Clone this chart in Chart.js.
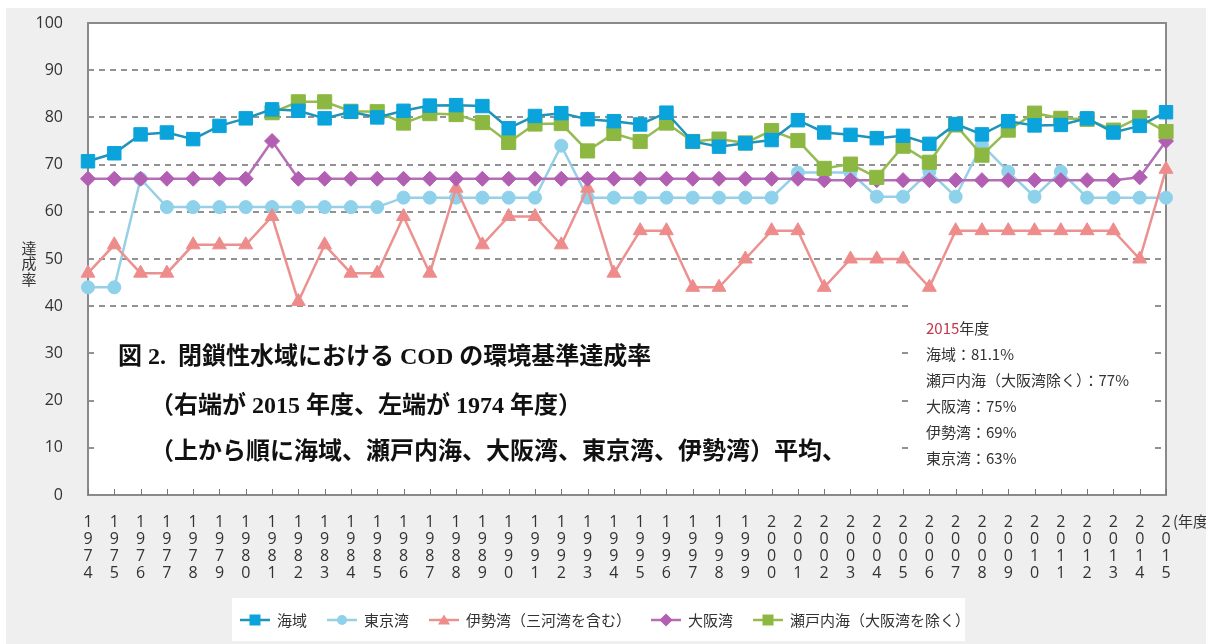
<!DOCTYPE html>
<html lang="ja">
<head>
<meta charset="utf-8">
<script src="https://cdn.jsdelivr.net/npm/chart.js@4.4.1/dist/chart.umd.min.js"></script>
<style>
  html, body { margin: 0; padding: 0; background: #fff; }
  #wrap { width: 1206px; height: 644px; position: relative; }
</style>
</head>
<body>
<div id="wrap"><canvas id="chart" width="1206" height="644"></canvas></div>
<script>
// 年度
const years = ['1974','1975','1976','1977','1978','1979','1980','1981','1982','1983',
  '1984','1985','1986','1987','1988','1989','1990','1991','1992','1993',
  '1994','1995','1996','1997','1998','1999','2000','2001','2002','2003',
  '2004','2005','2006','2007','2008','2009','2010','2011','2012','2013',
  '2014','2015'];

// 達成率 (%)
const kaiiki = [70.7, 72.4, 76.4, 76.8, 75.4, 78.2, 79.8, 81.7, 81.4, 79.8,
  81.2, 80.0, 81.4, 82.5, 82.6, 82.4, 77.7, 80.3, 80.9, 79.6,
  79.2, 78.5, 81.0, 74.9, 73.8, 74.5, 75.2, 79.4, 76.8, 76.3,
  75.6, 76.1, 74.4, 78.6, 76.4, 79.2, 78.3, 78.4, 79.8, 76.8,
  78.2, 81.1];
const tokyo = [44, 44, 67, 61, 61, 61, 61, 61, 61, 61,
  61, 61, 63, 63, 63, 63, 63, 63, 74, 63,
  63, 63, 63, 63, 63, 63, 63, 68.3, 68.3, 68.3,
  63.2, 63.2, 68.5, 63.2, 74.2, 68.5, 63.2, 68.5, 63, 63,
  63, 63];
const ise = [47, 53, 47, 47, 53, 53, 53, 59, 41, 53,
  47, 47, 59, 47, 65, 53, 59, 59, 53, 65,
  47, 56, 56, 44, 44, 50, 56, 56, 44, 50,
  50, 50, 44, 56, 56, 56, 56, 56, 56, 56,
  50, 69];
const osaka = [67, 67, 67, 67, 67, 67, 67, 75, 67, 67,
  67, 67, 67, 67, 67, 67, 67, 67, 67, 67,
  67, 67, 67, 67, 67, 67, 67, 67, 66.7, 66.7,
  66.7, 66.7, 66.7, 66.7, 66.7, 66.7, 66.7, 66.7, 66.7, 66.7,
  67.3, 75];
const seto = [null, null, null, null, null, null, null, 81, 83.3, 83.3,
  81.3, 81.2, 78.8, 80.8, 80.6, 78.9, 74.7, 78.6, 78.7, 72.9,
  76.6, 74.9, 78.8, 74.9, 75.4, 74.6, 77.2, 75.1, 69.2, 70.1,
  67.3, 73.9, 70.5, 78.4, 72.0, 77.3, 80.9, 79.8, 79.6, 77.3,
  80.0, 77];

const yTicks = [0, 10, 20, 30, 40, 50, 60, 70, 80, 90, 100];

const CJK = '"Noto Sans CJK JP", sans-serif';

// 凡例の並び (図の下の白い枠)
const legendItems = [
  { label: '海域', line: '#1f93b8', fill: '#0aa3dc', shape: 'rect' },
  { label: '東京湾', line: '#96d0e6', fill: '#8ed1ea', shape: 'circle' },
  { label: '伊勢湾（三河湾を含む）', line: '#ec9090', fill: '#ee8c8c', shape: 'triangle' },
  { label: '大阪湾', line: '#b56fb6', fill: '#b25fb3', shape: 'rectRot' },
  { label: '瀬戸内海（大阪湾を除く）', line: '#96bb50', fill: '#8cb842', shape: 'rect' }
];

const summary = [
  '海域：81.1%',
  '瀬戸内海（大阪湾除く）：77%',
  '大阪湾：75%',
  '伊勢湾：69%',
  '東京湾：63%'
];

function shape(ctx, kind, x, y, r) {
  ctx.beginPath();
  if (kind === 'rect') {
    ctx.rect(x - r, y - r, 2 * r, 2 * r);
  } else if (kind === 'circle') {
    ctx.arc(x, y, r, 0, Math.PI * 2);
  } else if (kind === 'triangle') {
    ctx.moveTo(x, y - r);
    ctx.lineTo(x + r * 1.1, y + r * 0.8);
    ctx.lineTo(x - r * 1.1, y + r * 0.8);
    ctx.closePath();
  } else {
    ctx.moveTo(x, y - r * 1.2);
    ctx.lineTo(x + r * 1.2, y);
    ctx.lineTo(x, y + r * 1.2);
    ctx.lineTo(x - r * 1.2, y);
    ctx.closePath();
  }
  ctx.fill();
}

const decor = {
  id: 'decor',
  beforeDraw(chart) {
    const { ctx, chartArea: a } = chart;
    ctx.save();
    ctx.fillStyle = '#fff';
    ctx.fillRect(0, 0, chart.width, chart.height);
    ctx.fillStyle = '#efefef';
    ctx.fillRect(6, 8, chart.width - 6, chart.height - 8);
    ctx.fillStyle = '#fff';
    ctx.fillRect(a.left, a.top, a.right - a.left, a.bottom - a.top);
    ctx.restore();
  },
  beforeDatasetsDraw(chart) {
    const { ctx, chartArea: a } = chart;
    const xs = chart.scales.x;
    ctx.save();
    // 文字の下地 (点線を隠す)
    ctx.fillStyle = '#fff';
    ctx.fillRect(a.left + 8, 315, 804, a.bottom - 8 - 315);
    ctx.fillRect(a.right - 253, 300, 240, a.bottom - 8 - 300);
    // 枠
    ctx.strokeStyle = '#8a8a8a';
    ctx.lineWidth = 2;
    ctx.strokeRect(a.left, a.top, a.right - a.left, a.bottom - a.top);
    // 内向きの目盛
    ctx.lineWidth = 1;
    ctx.strokeStyle = '#777';
    for (let i = 0; i < years.length; i++) {
      const x = Math.round(xs.getPixelForValue(i)) + 0.5;
      ctx.beginPath();
      ctx.moveTo(x, a.bottom);
      ctx.lineTo(x, a.bottom - 6);
      ctx.stroke();
    }
    ctx.restore();
  },
  afterDraw(chart) {
    const { ctx, chartArea: a } = chart;
    const xs = chart.scales.x;
    ctx.save();
    ctx.textBaseline = 'middle';

    // 縦書きの軸タイトル
    ctx.fillStyle = '#333';
    ctx.font = '15px ' + CJK;
    ctx.textAlign = 'center';
    ['達', '成', '率'].forEach((c, i) => ctx.fillText(c, 29, 248 + i * 15.5));

    // (年度)
    ctx.textAlign = 'left';
    ctx.fillText('(年度)', xs.getPixelForValue(years.length - 1) + 7, 521);

    // 図のタイトル
    ctx.fillStyle = '#111';
    ctx.font = 'bold 24px "Liberation Serif", ' + CJK;
    ctx.fillText('図 2.  閉鎖性水域における COD の環境基準達成率', 118, 358);
    ctx.fillText('（右端が 2015 年度、左端が 1974 年度）', 150, 407);
    ctx.fillText('（上から順に海域、瀬戸内海、大阪湾、東京湾、伊勢湾）平均、', 150, 453);

    // 2015年度の値
    let tx = a.right - 240;
    ctx.font = '15px ' + CJK;
    ctx.fillStyle = '#c5364a';
    ctx.fillText('2015', tx, 328);
    const w = ctx.measureText('2015').width;
    ctx.fillStyle = '#333';
    ctx.fillText('年度', tx + w, 328);
    summary.forEach((s, i) => ctx.fillText(s, tx, 354 + i * 26));

    // 凡例
    ctx.fillStyle = '#fff';
    ctx.fillRect(232, 598, 733, 43);
    let lx = 240;
    const ly = 620;
    ctx.font = '15px ' + CJK;
    legendItems.forEach(it => {
      ctx.strokeStyle = it.line;
      ctx.lineWidth = 2.5;
      ctx.beginPath();
      ctx.moveTo(lx, ly);
      ctx.lineTo(lx + 30, ly);
      ctx.stroke();
      ctx.fillStyle = it.fill;
      shape(ctx, it.shape, lx + 15, ly, it.shape === 'circle' ? 5 : 5.5);
      ctx.fillStyle = '#333';
      ctx.fillText(it.label, lx + 37, ly);
      lx += 37 + ctx.measureText(it.label).width + 20;
    });
    ctx.restore();
  }
};

function series(label, data, line, fill, style, radius, order) {
  return {
    label: label,
    data: data,
    borderColor: line,
    backgroundColor: fill,
    borderWidth: 2.5,
    pointStyle: style,
    pointRadius: radius,
    pointHoverRadius: radius,
    pointBackgroundColor: fill,
    pointBorderColor: fill,
    pointBorderWidth: 1,
    tension: 0,
    spanGaps: false,
    clip: false,
    order: order
  };
}

new Chart(document.getElementById('chart'), {
  type: 'line',
  data: {
    labels: years,
    datasets: [
      series('海域', kaiiki, '#1f93b8', '#0aa3dc', 'rect', 9.5, 0),
      series('東京湾', tokyo, '#96d0e6', '#8ed1ea', 'circle', 6.5, 4),
      series('伊勢湾（三河湾を含む）', ise, '#ec9090', '#ee8c8c', 'triangle', 8, 3),
      series('大阪湾', osaka, '#b56fb6', '#b25fb3', 'rectRot', 7.5, 2),
      series('瀬戸内海（大阪湾を除く）', seto, '#96bb50', '#8cb842', 'rect', 10, 1)
    ]
  },
  options: {
    responsive: false,
    devicePixelRatio: 1,
    animation: false,
    layout: { padding: { top: 23, right: 40, left: 0, bottom: 0 } },
    plugins: {
      legend: { display: false },
      tooltip: { enabled: false }
    },
    scales: {
      x: {
        grid: { display: false },
        border: { display: false },
        ticks: {
          autoSkip: false,
          maxRotation: 0,
          minRotation: 0,
          padding: 11,
          color: '#333',
          font: { family: '"Open Sans", sans-serif', size: 16, lineHeight: 1.06 },
          callback: (v, i) => years[i].split('')
        },
        afterFit: s => { s.height = 149; }
      },
      y: {
        min: 0,
        max: 100,
        afterBuildTicks: s => { s.ticks = yTicks.map(v => ({ value: v })); },
        grid: {
          drawTicks: false,
          lineWidth: 2,
          color: c => (c.tick && (c.tick.value === 0 || c.tick.value === 100)) ? 'rgba(0,0,0,0)' : '#929292'
        },
        border: { display: false, dash: [6, 5] },
        ticks: {
          padding: 25,
          color: '#333',
          font: { family: '"Open Sans", sans-serif', size: 16 }
        },
        afterFit: s => { s.width = 88; s.paddingTop = 10; s.paddingBottom = 10; }
      }
    }
  },
  plugins: [decor]
});
</script>
</body>
</html>
